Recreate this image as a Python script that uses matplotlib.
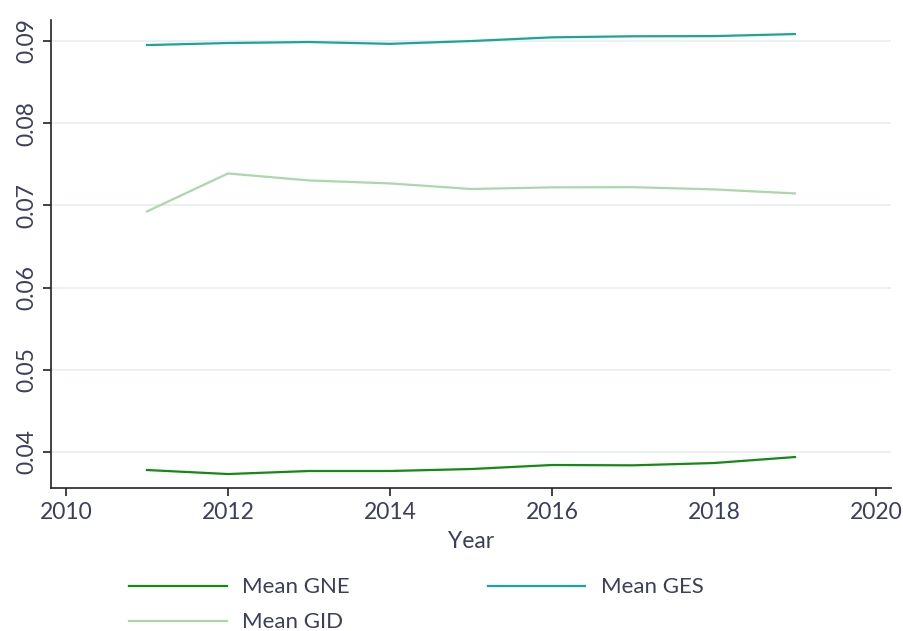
import matplotlib.pyplot as plt
import numpy as np

# 数据
years = [2011, 2012, 2013, 2014, 2015, 2016, 2017, 2018, 2019]
mean_gne = [0.03781, 0.03732, 0.03769, 0.03769, 0.03793, 0.03842, 0.03838, 0.03866, 0.03939]
mean_ges = [0.08951, 0.08976, 0.08988, 0.08966, 0.09000, 0.09045, 0.09058, 0.09060, 0.09085]
mean_gid = [0.06927, 0.07389, 0.07304, 0.07268, 0.07200, 0.07220, 0.07222, 0.07195, 0.07146]

x_ticks = [2010, 2012, 2014, 2016, 2018, 2020]
y_ticks = [0.04, 0.05, 0.06, 0.07, 0.08, 0.09]

text_color = '#3b3f5c'
plt.rcParams['font.family'] = ['Lato', 'DejaVu Sans']

fig = plt.figure(figsize=(9.04, 6.31), dpi=100)
ax = fig.add_axes([0.0564, 0.2266, 0.9292, 0.7417])

l_gne, = ax.plot(years, mean_gne, color='#138a13', linewidth=1.6, label='Mean GNE')
l_ges, = ax.plot(years, mean_ges, color='#1aa596', linewidth=1.6, label='Mean GES')
l_gid, = ax.plot(years, mean_gid, color='#a9d8a9', linewidth=1.6, label='Mean GID')

ax.set_xlim(2009.815, 2020.185)
ax.set_ylim(0.03562, 0.09256)
ax.set_xticks(x_ticks)
ax.set_yticks(y_ticks)
ax.set_yticklabels([f'{v:g}' for v in y_ticks], rotation=90, va='center')
ax.tick_params(axis='both', colors='#222222', labelcolor=text_color, labelsize=16.5,
               length=6, width=1.2, direction='out', pad=4)

for side in ['top', 'right']:
    ax.spines[side].set_visible(False)
for side in ['left', 'bottom']:
    ax.spines[side].set_color('#222222')
    ax.spines[side].set_linewidth(1.2)

ax.grid(axis='y', color='#e8eff0', linewidth=1.2)
ax.set_axisbelow(True)
ax.set_xlabel('Year', fontsize=16.5, color=text_color, labelpad=6)

fig.legend([l_gne, l_gid, l_ges], ['Mean GNE', 'Mean GID', 'Mean GES'],
           ncol=2, loc='lower center', bbox_to_anchor=(0.4605, -0.034),
           frameon=False, fontsize=16, labelcolor=text_color,
           handlelength=4.4, handletextpad=0.7, columnspacing=6.2, labelspacing=0.68)

fig.savefig('out.png', dpi=100)
